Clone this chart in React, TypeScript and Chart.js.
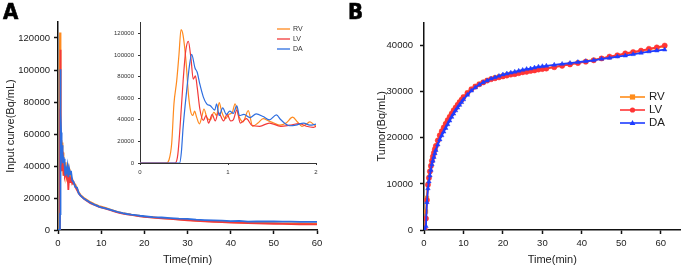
import React, { useEffect, useRef } from 'react';
import { Chart, registerables } from 'chart.js';

Chart.register(...registerables);

const FONT = '"Liberation Sans", Arial, Helvetica, sans-serif';

// ---------- Labels ----------
const SERIES_LABELS = ['RV', 'LV', 'DA'];
const A_X_TICKS = [0, 10, 20, 30, 40, 50, 60];
const A_Y_TICKS = [0, 20000, 40000, 60000, 80000, 100000, 120000];
const INSET_X_TICKS = [0, 1, 2];
const INSET_Y_TICKS = [0, 20000, 40000, 60000, 80000, 100000, 120000];
const B_X_TICKS = [0, 10, 20, 30, 40, 50, 60];
const B_Y_TICKS = [0, 10000, 20000, 30000, 40000];

// ---------- Panel A: input curves, first 2 minutes (inset) ----------
const RV_T_IN = [0, 0.3, 0.33, 0.36, 0.386, 0.417, 0.443, 0.466, 0.49, 0.523, 0.55, 0.575, 0.6, 0.62, 0.645, 0.675, 0.7, 0.727, 0.76, 0.8, 0.84, 0.87, 0.9, 0.93, 0.97, 1.01, 1.05, 1.08, 1.12, 1.17, 1.23, 1.28, 1.34, 1.4, 1.46, 1.52, 1.59, 1.66, 1.735, 1.79, 1.84, 1.89, 1.93, 1.97, 2.0];
const RV_Y_IN = [0, 0, 3000, 18000, 55000, 76000, 100500, 123500, 118000, 94000, 64000, 48000, 44000, 48000, 42000, 36300, 42000, 50000, 42000, 40000, 47000, 44000, 56000, 47000, 41000, 45000, 47000, 54700, 44000, 38000, 48500, 34000, 37000, 41000, 39000, 37000, 35000, 37000, 42400, 38000, 34000, 36000, 38000, 36000, 34000];
const LV_T_IN = [0, 0.4, 0.43, 0.455, 0.49, 0.52, 0.549, 0.58, 0.605, 0.63, 0.65, 0.68, 0.72, 0.75, 0.78, 0.82, 0.855, 0.89, 0.95, 0.99, 1.03, 1.06, 1.1, 1.14, 1.21, 1.27, 1.36, 1.47, 1.6, 1.7, 1.81, 1.89, 1.97, 2.0];
const LV_Y_IN = [0, 0, 8000, 33000, 76000, 104000, 112700, 96000, 77600, 80600, 70000, 50000, 39400, 44000, 37000, 45000, 39000, 47000, 39000, 45000, 39000, 40000, 49000, 37000, 41000, 35000, 34000, 37000, 34000, 35000, 36500, 34000, 33000, 34000];
const DA_T_IN = [0, 0.45, 0.47, 0.49, 0.515, 0.538, 0.565, 0.587, 0.625, 0.65, 0.68, 0.72, 0.758, 0.8, 0.85, 0.87, 0.9, 0.94, 0.98, 1.02, 1.06, 1.1, 1.13, 1.18, 1.25, 1.32, 1.4, 1.47, 1.55, 1.6, 1.7, 1.77, 1.86, 1.93, 2.0];
const DA_Y_IN = [0, 0, 10000, 33000, 55000, 73000, 92000, 100500, 88000, 84000, 73000, 61000, 54700, 53000, 49000, 54700, 44000, 51000, 45000, 48000, 46000, 53000, 44000, 45000, 42000, 45500, 43000, 40000, 44500, 40000, 34500, 35000, 37000, 35000, 36000];

// ---------- Panel A: input curves after 2 minutes ----------
const LATE_T = [2.2, 2.4, 2.6, 2.8, 3.0, 3.3, 3.6, 4.0, 4.4, 4.8, 5.2, 5.6, 6.0, 6.5, 7, 7.5, 8, 8.5, 9, 9.5, 10, 11, 12, 13, 14, 15, 16, 17, 18, 19, 20, 22, 24, 26, 28, 30, 32, 34, 36, 38, 40, 42, 44, 46, 48, 50, 52, 54, 56, 58, 60];
const RV_LATE = [37000, 39000, 34000, 36000, 33000, 32000, 29000, 28500, 26000, 23500, 22000, 21000, 20000, 19200, 18300, 17400, 16800, 16000, 15500, 15000, 14600, 13800, 12900, 12000, 11200, 10600, 10100, 9600, 9200, 8800, 8400, 7900, 7400, 7100, 6600, 6400, 5900, 5600, 5400, 5200, 5000, 4800, 4700, 4500, 4400, 4300, 4200, 4100, 4100, 4000, 4000];
const LV_LATE = [36000, 25000, 34000, 30000, 33000, 29000, 30000, 27000, 25000, 23000, 21500, 20500, 19500, 18600, 17600, 16800, 16200, 15600, 15000, 14500, 14100, 13300, 12500, 11700, 10900, 10300, 9800, 9400, 9000, 8600, 8200, 7800, 7300, 6900, 6500, 6100, 5700, 5400, 5100, 4900, 4700, 4500, 4300, 4100, 4000, 3900, 3800, 3700, 3600, 3600, 3500];
const DA_LATE = [40000, 33000, 38000, 35000, 37000, 31000, 30000, 27000, 26500, 23000, 21700, 20600, 19600, 18800, 17900, 17000, 16400, 15700, 15200, 14600, 14200, 13500, 12700, 11900, 11100, 10500, 10000, 9600, 9300, 8900, 8600, 8100, 7800, 7400, 7100, 7000, 6500, 6200, 6000, 5800, 5600, 5700, 5200, 5400, 5300, 5300, 5200, 5200, 5100, 5100, 5100];

// ---------- Panel B: tumor curves ----------
const B_TIME = [0.25, 0.5, 0.75, 1.0, 1.25, 1.5, 1.75, 2.0, 2.25, 2.5, 2.75, 3.0, 3.5, 4.0, 4.5, 5.0, 5.5, 6.0, 6.5, 7.0, 7.5, 8.0, 8.5, 9.0, 9.5, 10, 11, 12, 13, 14, 15, 16, 17, 18, 19, 20, 21, 22, 23, 24, 25, 26, 27, 28, 29, 30, 31, 33, 35, 37, 39, 41, 43, 45, 47, 49, 51, 53, 55, 57, 59, 61];
const RV_B = [0, 4000, 7000, 10000, 11500, 12800, 14000, 15100, 16000, 16800, 17600, 18300, 19500, 20600, 21500, 22300, 23100, 23900, 24600, 25300, 26000, 26600, 27200, 27800, 28300, 28900, 29800, 30600, 31200, 31700, 32100, 32500, 32800, 33100, 33300, 33500, 33700, 33900, 34000, 34200, 34300, 34500, 34600, 34800, 34900, 35000, 35100, 35400, 35700, 36000, 36300, 36600, 36900, 37200, 37500, 37800, 38200, 38500, 38800, 39200, 39500, 39900];
const LV_B = [0, 2500, 6500, 9800, 11300, 12700, 13900, 15000, 15900, 16700, 17500, 18200, 19400, 20500, 21400, 22200, 23000, 23800, 24500, 25200, 25900, 26500, 27100, 27700, 28200, 28800, 29700, 30500, 31100, 31600, 32000, 32400, 32700, 32900, 33100, 33300, 33500, 33700, 33800, 34000, 34200, 34300, 34500, 34600, 34800, 34900, 35000, 35300, 35600, 35900, 36200, 36500, 36800, 37200, 37600, 37900, 38300, 38600, 38900, 39300, 39600, 40000];
const DA_B = [0, 800, 6000, 9000, 10500, 11800, 13000, 14200, 15000, 15800, 16600, 17300, 18500, 19600, 20500, 21300, 22100, 22900, 23700, 24500, 25200, 25900, 26500, 27100, 27700, 28300, 29300, 30200, 30900, 31500, 32000, 32400, 32800, 33100, 33400, 33700, 33900, 34100, 34300, 34500, 34700, 34900, 35000, 35200, 35400, 35500, 35600, 35800, 36000, 36200, 36400, 36600, 36800, 37100, 37300, 37600, 37800, 38100, 38400, 38700, 38900, 39100];

// ---------- Colours ----------
const A_COLORS = ['#FF8A1E', '#F23A3A', '#2E6EE0'];
const B_COLORS = ['#FF8C1A', '#FF3535', '#1F3DFF'];
const B_MARKERS = ['rect', 'circle', 'triangle'];

const pts = (xs: number[], ys: number[]) => xs.map((x, i) => ({ x, y: ys[i] }));

const drawMarker = (ctx: CanvasRenderingContext2D, style: string, x: number, y: number, r: number) => {
  ctx.beginPath();
  if (style === 'rect') {
    ctx.rect(x - r, y - r, 2 * r, 2 * r);
  } else if (style === 'circle') {
    ctx.arc(x, y, r, 0, Math.PI * 2);
  } else {
    ctx.moveTo(x, y - r * 1.2);
    ctx.lineTo(x + r * 1.1, y + r * 0.8);
    ctx.lineTo(x - r * 1.1, y + r * 0.8);
    ctx.closePath();
  }
  ctx.fill();
};

const lineLegend = {
  id: 'lineLegend',
  afterDraw(chart: any, _args: any, opts: any) {
    if (!opts || !opts.items) return;
    const ctx: CanvasRenderingContext2D = chart.ctx;
    ctx.save();
    opts.items.forEach((it: any, i: number) => {
      const y = opts.y + i * opts.gap;
      ctx.strokeStyle = it.color;
      ctx.lineWidth = opts.lineWidth;
      ctx.beginPath();
      ctx.moveTo(opts.x, y);
      ctx.lineTo(opts.x + opts.len, y);
      ctx.stroke();
      if (it.marker) {
        ctx.fillStyle = it.color;
        drawMarker(ctx, it.marker, opts.x + opts.len / 2, y, opts.markerR);
      }
      ctx.fillStyle = opts.textColor;
      ctx.font = `${opts.size}px ${FONT}`;
      ctx.textBaseline = 'middle';
      ctx.textAlign = 'left';
      ctx.fillText(it.label, opts.x + opts.len + opts.textGap, y);
    });
    ctx.restore();
  },
};

const axis = (o: any) => {
  const { min, max, ticks, fixW, fixH, title, tickSize, tickLen, tickPad, lineW, color, titlePad, titleSize, textColor } = o;
  return {
    type: 'linear',
    min,
    max,
    afterBuildTicks: (s: any) => {
      s.ticks = ticks.map((v: number) => ({ value: v }));
    },
    afterFit: (s: any) => {
      if (fixW !== undefined) s.width = fixW;
      if (fixH !== undefined) s.height = fixH;
    },
    grid: {
      display: true,
      drawOnChartArea: false,
      drawTicks: true,
      tickLength: tickLen,
      color,
      tickColor: color,
      tickWidth: lineW,
    },
    border: { display: true, color, width: lineW },
    ticks: {
      font: { family: FONT, size: tickSize },
      color: textColor,
      padding: tickPad,
      maxRotation: 0,
      autoSkip: false,
      callback: (v: any) => String(v),
    },
    title: title
      ? {
          display: true,
          text: title,
          font: { family: FONT, size: titleSize },
          color: textColor,
          padding: titlePad,
        }
      : { display: false },
  };
};

export default function App() {
  const aRef = useRef<HTMLCanvasElement>(null);
  const inRef = useRef<HTMLCanvasElement>(null);
  const bRef = useRef<HTMLCanvasElement>(null);

  useEffect(() => {
    const inT = [RV_T_IN, LV_T_IN, DA_T_IN];
    const inY = [RV_Y_IN, LV_Y_IN, DA_Y_IN];
    const lateY = [RV_LATE, LV_LATE, DA_LATE];
    const bY = [RV_B, LV_B, DA_B];

    const mainA = new Chart(aRef.current as HTMLCanvasElement, {
      type: 'line',
      data: {
        datasets: SERIES_LABELS.map((label, i) => ({
          label,
          data: [...pts(inT[i], inY[i]), ...pts(LATE_T, lateY[i])],
          borderColor: A_COLORS[i],
          borderWidth: 1.8,
          pointRadius: 0,
          tension: 0,
          order: 2 - i,
          fill: false,
        })),
      },
      options: {
        responsive: false,
        animation: false,
        parsing: false as any,
        layout: { padding: { left: 0, right: 23, top: 22, bottom: 0 } },
        plugins: { legend: { display: false }, tooltip: { enabled: false } },
        scales: {
          x: axis({ min: 0, max: 60, ticks: A_X_TICKS, fixH: 40, title: 'Time(min)', tickSize: 9.5, tickLen: 4, tickPad: 4, lineW: 1.5, color: '#111', titlePad: { top: 0, bottom: 3 }, titleSize: 11, textColor: '#222' }),
          y: axis({ min: 0, max: 130000, ticks: A_Y_TICKS, fixW: 58, title: 'Input curve(Bq/mL)', tickSize: 9.5, tickLen: 4, tickPad: 4, lineW: 1.5, color: '#111', titlePad: { top: 4, bottom: 0 }, titleSize: 11, textColor: '#222' }),
        } as any,
      },
    } as any);

    const inset = new Chart(inRef.current as HTMLCanvasElement, {
      type: 'line',
      data: {
        datasets: SERIES_LABELS.map((label, i) => ({
          label,
          data: pts(inT[i], inY[i]),
          borderColor: A_COLORS[i],
          borderWidth: 1.2,
          pointRadius: 0,
          cubicInterpolationMode: 'monotone',
          order: 2 - i,
          fill: false,
        })),
      },
      options: {
        responsive: false,
        animation: false,
        parsing: false as any,
        layout: { padding: { left: 0, right: 19, top: 7, bottom: 0 } },
        plugins: {
          legend: { display: false },
          tooltip: { enabled: false },
          lineLegend: {
            items: SERIES_LABELS.map((label, i) => ({ label, color: A_COLORS[i] })),
            x: 177,
            y: 14,
            gap: 10,
            len: 13,
            lineWidth: 1.3,
            textGap: 3,
            size: 7,
            textColor: '#333',
          },
        } as any,
        scales: {
          x: axis({ min: 0, max: 2, ticks: INSET_X_TICKS, fixH: 22, tickSize: 6, tickLen: 2, tickPad: 4, lineW: 1, color: '#333', textColor: '#333' }),
          y: axis({ min: 0, max: 130000, ticks: INSET_Y_TICKS, fixW: 40, tickSize: 6, tickLen: 2, tickPad: 4, lineW: 1, color: '#333', textColor: '#333' }),
        } as any,
      },
      plugins: [lineLegend],
    } as any);

    const chartB = new Chart(bRef.current as HTMLCanvasElement, {
      type: 'line',
      data: {
        datasets: SERIES_LABELS.map((label, i) => ({
          label,
          data: pts(B_TIME, bY[i]),
          borderColor: B_COLORS[i],
          backgroundColor: B_COLORS[i],
          borderWidth: 1.8,
          pointStyle: B_MARKERS[i],
          pointRadius: 2.6,
          pointBorderWidth: 0.5,
          pointBackgroundColor: B_COLORS[i],
          pointBorderColor: B_COLORS[i],
          tension: 0,
          order: 2 - i,
          fill: false,
        })),
      },
      options: {
        responsive: false,
        animation: false,
        parsing: false as any,
        layout: { padding: { left: 0, right: 2, top: 22.5, bottom: 0 } },
        plugins: {
          legend: { display: false },
          tooltip: { enabled: false },
          lineLegend: {
            items: SERIES_LABELS.map((label, i) => ({ label, color: B_COLORS[i], marker: B_MARKERS[i] })),
            x: 275,
            y: 97,
            gap: 13,
            len: 25,
            lineWidth: 1.6,
            markerR: 2.6,
            textGap: 4,
            size: 11.5,
            textColor: '#222',
          },
        } as any,
        scales: {
          x: axis({ min: 0, max: 65, ticks: B_X_TICKS, fixH: 40, title: 'Time(min)', tickSize: 9.5, tickLen: 4, tickPad: 4, lineW: 1.5, color: '#111', titlePad: { top: 0, bottom: 3 }, titleSize: 11, textColor: '#222' }),
          y: axis({ min: 0, max: 45000, ticks: B_Y_TICKS, fixW: 79, title: 'Tumor(Bq/mL)', tickSize: 9.5, tickLen: 4, tickPad: 7, lineW: 1.5, color: '#111', titlePad: { top: 30, bottom: 0 }, titleSize: 11, textColor: '#222' }),
        } as any,
      },
      plugins: [lineLegend],
    } as any);

    return () => {
      mainA.destroy();
      inset.destroy();
      chartB.destroy();
    };
  }, []);

  const panelLabel: React.CSSProperties = {
    position: 'absolute',
    top: 1,
    fontFamily: '"Liberation Sans Narrow", "DejaVu Sans Condensed", "Liberation Sans", Arial, sans-serif',
    fontWeight: 700,
    fontSize: 22,
    lineHeight: '21px',
    color: '#000',
    WebkitTextStroke: '0.6px #000',
  };

  return (
    <div style={{ position: 'absolute', left: 0, top: 0, width: 685, height: 270, background: '#fff', overflow: 'hidden' }}>
      <canvas ref={aRef} width={340} height={270} style={{ position: 'absolute', left: 0, top: 0, width: 340, height: 270 }} />
      <canvas ref={inRef} width={235} height={170} style={{ position: 'absolute', left: 100, top: 15, width: 235, height: 170 }} />
      <canvas ref={bRef} width={340} height={270} style={{ position: 'absolute', left: 345, top: 0, width: 340, height: 270 }} />
      <div style={{ ...panelLabel, left: 3 }}>A</div>
      <div style={{ ...panelLabel, left: 348 }}>B</div>
    </div>
  );
}
